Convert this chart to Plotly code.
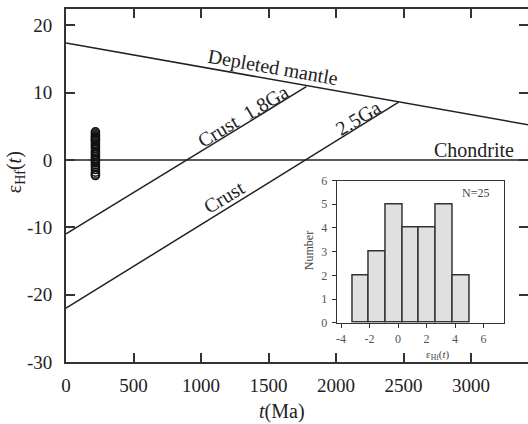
import plotly.graph_objects as go

# ---- data ----
dm_t = [0, 3500]
dm_eps = [17.4, 4.97]
crust18_t = [0, 1780]
crust18_eps = [-10.95, 10.9]
crust25_t = [0, 2464]
crust25_eps = [-22.0, 8.6]
chond_t = [0, 3500]
chond_eps = [0, 0]

sample_eps = [-2.3, -2.1, -1.8, -1.4, -1.0, -0.7, -0.4, -0.1, 0.0, 0.2,
              0.5, 0.8, 1.1, 1.3, 1.7, 2.0, 2.2, 2.5, 2.8, 3.0,
              3.2, 3.4, 3.6, 3.9, 4.2]
sample_age = [218] * len(sample_eps)

bin_start, bin_end, bin_size = -3.2, 5.0, 8.2 / 7

main_xticks = [0, 500, 1000, 1500, 2000, 2500, 3000]
main_yticks = [-30, -20, -10, 0, 10, 20]
inset_xticks = [-4, -2, 0, 2, 4, 6]
inset_yticks = [0, 1, 2, 3, 4, 5, 6]

FONT = "Liberation Serif"
LC = "#222"

fig = go.Figure()
line_style = dict(color=LC, width=1.5)
for t, e in [(dm_t, dm_eps), (crust18_t, crust18_eps), (crust25_t, crust25_eps), (chond_t, chond_eps)]:
    fig.add_trace(go.Scatter(x=t, y=e, mode="lines", line=line_style, showlegend=False, hoverinfo="skip"))

fig.add_trace(go.Scatter(x=sample_age, y=sample_eps, mode="markers",
                         marker=dict(symbol="circle-open", size=8, color="#111", line=dict(width=1.6)),
                         showlegend=False))

# invisible trace for right-side ticks
fig.add_trace(go.Scatter(x=chond_t, y=chond_eps, yaxis="y2", mode="lines",
                         line=dict(width=0), opacity=0, showlegend=False, hoverinfo="skip"))

fig.add_trace(go.Histogram(x=sample_eps, xaxis="x2", yaxis="y3",
                           xbins=dict(start=bin_start, end=bin_end, size=bin_size),
                           marker=dict(color="#e0e0e0", line=dict(color="#333", width=1.5)),
                           showlegend=False))

def lab(v):
    return str(v).replace("\u2212", "-")

fig.update_layout(
    width=528, height=424,
    margin=dict(l=66, r=0, t=9, b=62),
    paper_bgcolor="white", plot_bgcolor="white",
    font=dict(family=FONT, color="#222"),
    bargap=0,
    xaxis=dict(range=[0, 3422], tickvals=main_xticks, ticktext=[lab(v) for v in main_xticks],
               ticks="inside", ticklen=9, tickwidth=1.5,
               tickcolor="#333", showline=True, linecolor="#333", linewidth=1.8, mirror="ticks",
               showgrid=False, zeroline=False, tickfont=dict(size=19, family=FONT, color="#222"),
               ticklabelstandoff=5),
    yaxis=dict(range=[-30, 22.45], tickvals=main_yticks, ticktext=[lab(v) for v in main_yticks],
               ticks="inside", ticklen=9, tickwidth=1.5,
               tickcolor="#333", showline=True, linecolor="#333", linewidth=1.8, mirror=False,
               showgrid=False, zeroline=False, tickfont=dict(size=19, family=FONT, color="#222"),
               ticklabelstandoff=8),
    yaxis2=dict(range=[-30, 22.45], overlaying="y", side="right", tickvals=main_yticks,
                ticks="inside", ticklen=9, tickwidth=1.5, tickcolor="#333", showticklabels=False,
                showline=False, showgrid=False, zeroline=False),
    xaxis2=dict(domain=[0.586, 0.947], anchor="y3", range=[-4.3, 7.4], tickvals=inset_xticks,
                ticktext=[lab(v) for v in inset_xticks],
                ticks="outside", ticklen=4, tickcolor="#333", showline=True, linecolor="#333",
                linewidth=1.3, mirror=True, showgrid=False, zeroline=False,
                tickfont=dict(size=12, family=FONT, color="#555"), ticklabelstandoff=1),
    yaxis3=dict(domain=[0.111, 0.514], anchor="x2", range=[0, 6], tickvals=inset_yticks,
                ticktext=[lab(v) for v in inset_yticks],
                ticks="outside", ticklen=4, tickcolor="#333", showline=True, linecolor="#333",
                linewidth=1.3, mirror=True, showgrid=False, zeroline=False,
                tickfont=dict(size=12, family=FONT, color="#555"), ticklabelstandoff=2),
)

ann_font = dict(family=FONT, size=20, color="#222")
annotations = [
    dict(x=1533, y=13.7, text="Depleted mantle", textangle=10, font=ann_font),
    dict(x=1311, y=6.55, text="Crust&nbsp;&nbsp;1.8Ga", textangle=-31, font=ann_font),
    dict(x=2163, y=6.26, text="2.5Ga", textangle=-31, font=ann_font),
    dict(x=1170, y=-5.44, text="Crust", textangle=-31, font=ann_font),
    dict(x=3022, y=1.5, text="Chondrite", textangle=0, font=ann_font),
]
for a in annotations:
    fig.add_annotation(xref="x", yref="y", showarrow=False, xanchor="center", yanchor="middle", **a)

paper_anns = [
    dict(x=-0.110, y=0.538, textangle=-90, text="ε<sub>Hf</sub>(<i>t</i>)",
         font=dict(family=FONT, size=20, color="#222")),
    dict(x=0.4675, y=-0.139, text="<i>t</i>(Ma)", font=dict(family=FONT, size=20, color="#222")),
    dict(x=0.526, y=0.314, textangle=-90, text="Number", font=dict(family=FONT, size=12, color="#444")),
    dict(x=0.805, y=0.020, text="ε<sub>Hf</sub>(<i>t</i>)", font=dict(family=FONT, size=11, color="#444")),
]
for a in paper_anns:
    fig.add_annotation(xref="paper", yref="paper", showarrow=False, xanchor="center", yanchor="middle", **a)

fig.add_annotation(xref="x2", yref="y3", x=5.41, y=5.48, showarrow=False, xanchor="center", yanchor="middle",
                   text="N=25", font=dict(family=FONT, size=12, color="#444"))

fig.write_html("out.html", config={"displayModeBar": False},
               post_script="document.body.style.margin='0px';")
